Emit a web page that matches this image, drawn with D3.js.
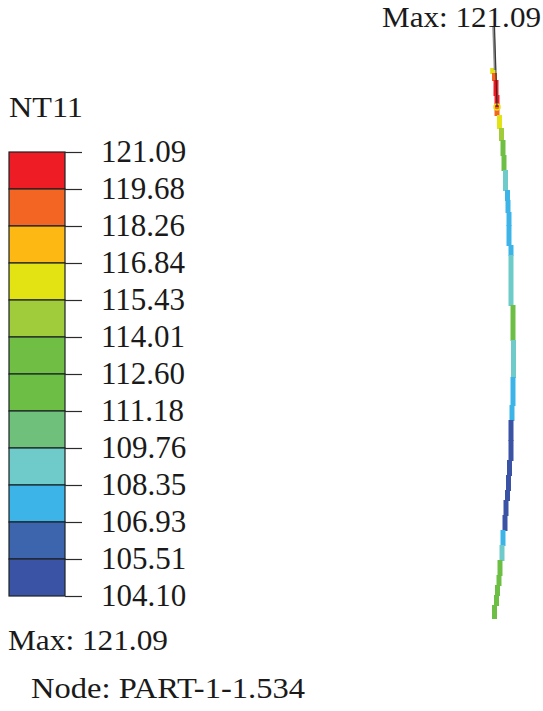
<!DOCTYPE html>
<html>
<head>
<meta charset="utf-8">
<script src="https://cdn.jsdelivr.net/npm/d3@7"></script>
<style>
  html, body { margin: 0; padding: 0; background: #fff; }
  text { font-family: "Liberation Serif", serif; fill: #1a1a1a; }
</style>
</head>
<body>
<svg id="chart" width="543" height="711"></svg>
<script>
// Legend
const tickLabels = ["121.09", "119.68", "118.26", "116.84", "115.43", "114.01", "112.60",
  "111.18", "109.76", "108.35", "106.93", "105.51", "104.10"];
const bandColors = ["#ee1c25", "#f26522", "#fdb813", "#e3e212", "#a0cb3a", "#70bf44",
  "#6dbe45", "#6fc07a", "#6fcbc9", "#3db4e8", "#3c65ae", "#3a53a4"];
const labelTexts = ["Max: 121.09", "NT11", "Max: 121.09", "Node: PART-1-1.534"];

// Deformed edge, one entry per node
const nodeAxial = [0, 5, 12, 27, 39, 47, 60, 72, 87, 102, 122, 132, 144, 157, 177, 187, 237,
  272, 309, 337, 352, 372, 392, 407, 422, 432, 447, 462, 477, 492, 507, 517, 527, 537, 550];
const nodeRadial = [2.7, 4.5, 6, 7, 7, 9.5, 11.5, 13, 14, 15.5, 17.5, 18, 19, 19, 21, 21, 23,
  23.5, 23, 22, 21, 21, 19.5, 18.5, 17.5, 16, 15, 13, 12, 10, 9, 7.5, 6.5, 4.5, 2.5];
const nodeTemp = [116, 119, 120.5, 121, 119, 116, 115, 113, 112, 109, 108, 107.5, 107.5, 107.5,
  107.5, 109, 112, 109, 107.5, 107.5, 104.5, 104.5, 104.5, 104.5, 104.5, 104.5, 104.5, 107.5,
  109, 112, 112, 112, 112, 112, 112];
const maxNode = 4;

const svg = d3.select("#chart");

const legendY = d3.scalePoint().domain(tickLabels).range([152, 596]);

// Legend colour bands
svg.append("g")
  .selectAll("rect")
  .data(bandColors)
  .join("rect")
  .attr("x", 9)
  .attr("y", (d, i) => legendY(tickLabels[i]))
  .attr("width", 56)
  .attr("height", legendY.step())
  .attr("fill", d => d)
  .attr("stroke", "#1c2226")
  .attr("stroke-width", 1.2);

// Legend axis
const legendAxis = svg.append("g")
  .attr("transform", "translate(65,0)")
  .call(d3.axisRight(legendY).tickSize(17).tickPadding(19));
legendAxis.select(".domain").remove();
legendAxis.selectAll("line").attr("stroke", "#2b2b2b").attr("stroke-width", 1.2);
legendAxis.selectAll("text")
  .style("font-family", '"Liberation Serif", serif')
  .style("font-size", "31px")
  .attr("fill", "#1a1a1a");

// Edge profile
const yScale = d3.scaleLinear().domain([0, 550]).range([68, 618]);
const xScale = d3.scaleLinear().domain([0, 25]).range([490, 515]);
const tempColor = d3.scaleThreshold()
  .domain(tickLabels.slice(1, -1).map(Number).reverse())
  .range(bandColors.slice().reverse());

const profile = d3.range(nodeAxial.length - 1).map(i => ({
  x: nodeRadial[i],
  y0: nodeAxial[i],
  y1: nodeAxial[i + 1] + 1,
  temp: nodeTemp[i]
}));

svg.append("g")
  .selectAll("line")
  .data(profile)
  .join("line")
  .attr("x1", d => xScale(d.x))
  .attr("x2", d => xScale(d.x))
  .attr("y1", d => yScale(d.y0))
  .attr("y2", d => yScale(d.y1))
  .attr("stroke", d => tempColor(d.temp))
  .attr("stroke-width", 5);

// Max marker and leader line
const maxX = xScale(nodeRadial[maxNode]);
const maxY = yScale(nodeAxial[maxNode]);
svg.append("circle")
  .attr("cx", maxX)
  .attr("cy", maxY)
  .attr("r", 3)
  .attr("fill", "none")
  .attr("stroke", "#e3e212")
  .attr("stroke-width", 1.5);
svg.append("line")
  .attr("x1", 493.5).attr("y1", 26).attr("x2", 495).attr("y2", 70)
  .attr("stroke", "#8a8a8a").attr("stroke-width", 2.5);
svg.append("line")
  .attr("x1", 494.5).attr("y1", 26).attr("x2", maxX).attr("y2", maxY)
  .attr("stroke", "#222").attr("stroke-width", 1.2)
  .attr("opacity", 0.8);

// Labels, stretched to the widths in the original
const labelBoxes = [
  { x: 382, y: 27, w: 159 },
  { x: 9, y: 117, w: 74 },
  { x: 8, y: 650, w: 160 },
  { x: 31, y: 698, w: 274 }
];
svg.append("g")
  .selectAll("text")
  .data(labelTexts)
  .join("text")
  .attr("x", (d, i) => labelBoxes[i].x)
  .attr("y", (d, i) => labelBoxes[i].y)
  .attr("textLength", (d, i) => labelBoxes[i].w)
  .attr("lengthAdjust", "spacingAndGlyphs")
  .attr("font-size", 30)
  .text(d => d);
</script>
</body>
</html>
